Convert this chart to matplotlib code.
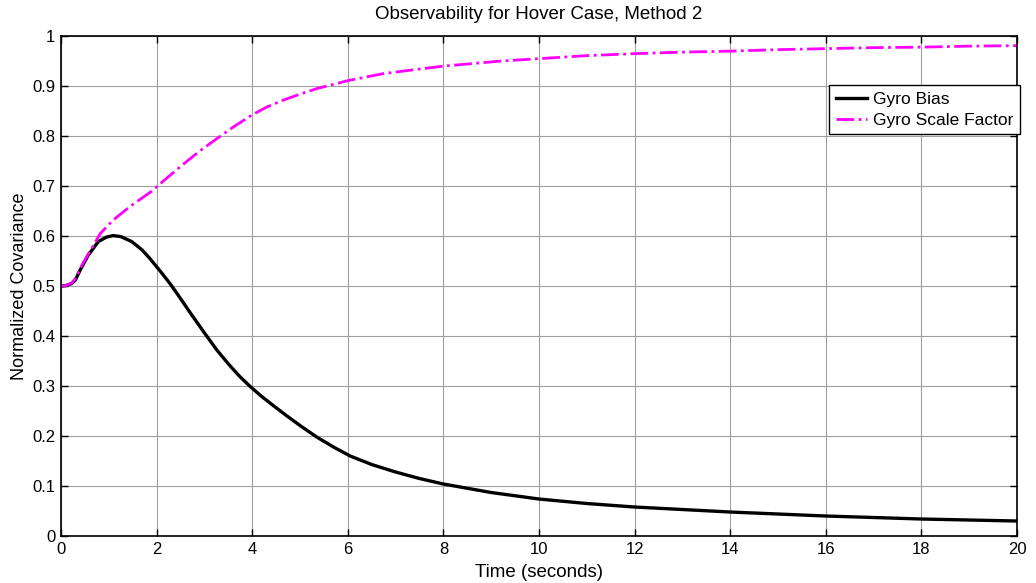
import numpy as np
import matplotlib
matplotlib.use('Agg')
from matplotlib import pyplot as plt

# values
bias_time = [0, 0.1, 0.22, 0.3, 0.4, 0.57, 0.68, 0.78, 0.95, 1.09, 1.25,
             1.48, 1.7, 1.86, 2.1, 2.28, 2.45, 2.7, 3.01, 3.26, 3.54, 3.75,
             3.97, 4.2, 4.44, 4.7, 5.0, 5.35, 5.7, 6.05, 6.5, 7, 7.5, 8, 9,
             10, 11, 12, 13, 14, 15, 16, 17, 18, 19, 20]
gyro_bias = [0.5, 0.501, 0.505, 0.512, 0.532, 0.562, 0.576, 0.589, 0.598,
             0.601, 0.599, 0.589, 0.572, 0.555, 0.527, 0.505, 0.482, 0.447,
             0.405, 0.372, 0.34, 0.318, 0.298, 0.279, 0.261, 0.242, 0.221,
             0.198, 0.178, 0.16, 0.143, 0.128, 0.115, 0.104, 0.087, 0.074,
             0.065, 0.058, 0.053, 0.048, 0.044, 0.04, 0.037, 0.034, 0.032,
             0.03]

scale_time = [0, 0.1, 0.22, 0.3, 0.4, 0.52, 0.64, 0.82, 1.09, 1.44, 1.9,
              2.2, 2.56, 2.9, 3.26, 3.6, 3.99, 4.3, 4.65, 5.0, 5.35, 6.0,
              6.74, 7.4, 8.0, 9.18, 10, 11, 12, 13, 14, 15, 16, 17, 18, 19,
              20]
gyro_scale = [0.5, 0.501, 0.506, 0.515, 0.535, 0.556, 0.575, 0.605, 0.632,
              0.659, 0.69, 0.715, 0.744, 0.77, 0.795, 0.818, 0.842, 0.858,
              0.872, 0.884, 0.895, 0.911, 0.925, 0.933, 0.94, 0.95, 0.955,
              0.961, 0.965, 0.968, 0.97, 0.973, 0.975, 0.977, 0.978, 0.98,
              0.981]

plt.rcParams['font.family'] = ['Liberation Sans', 'DejaVu Sans']
plt.rcParams['font.size'] = 12

fig = plt.figure(figsize=(10.36, 5.83), dpi=100)
ax = fig.add_axes([0.0589, 0.0806, 0.9228, 0.8574])

ax.plot(bias_time, gyro_bias, '-', color='black', lw=2.4,
        label='Gyro Bias')
ax.plot(scale_time, gyro_scale, '-.', color='#ff00ff', lw=2.0,
        label='Gyro Scale Factor')

ax.set_xlim(0, 20)
ax.set_ylim(0, 1)
ax.set_xticks(np.arange(0, 21, 2))
ax.set_yticks(np.arange(0, 1.01, 0.1))
ax.set_yticklabels(['0', '0.1', '0.2', '0.3', '0.4', '0.5', '0.6', '0.7',
                    '0.8', '0.9', '1'])
ax.grid(True, color='#a0a0a0', lw=0.8)
ax.tick_params(direction='in', top=True, right=True, length=5, width=1,
               pad=4, labelsize=12)
for sp in ax.spines.values():
    sp.set_linewidth(1.2)

ax.set_xlabel('Time (seconds)', fontsize=13.5, labelpad=5)
ax.set_ylabel('Normalized Covariance', fontsize=13, labelpad=3)
ax.set_title('Observability for Hover Case, Method 2', fontsize=13.5,
             pad=12)

leg = ax.legend(loc='upper right', bbox_to_anchor=(1.0031, 0.902),
                fancybox=False, framealpha=1, edgecolor='black',
                fontsize=12.5, handlelength=1.8, borderpad=0.38,
                labelspacing=0.32, handletextpad=0.35, borderaxespad=0)
leg.get_frame().set_linewidth(1.0)

plt.savefig('out.png', dpi=100)
plt.close()
